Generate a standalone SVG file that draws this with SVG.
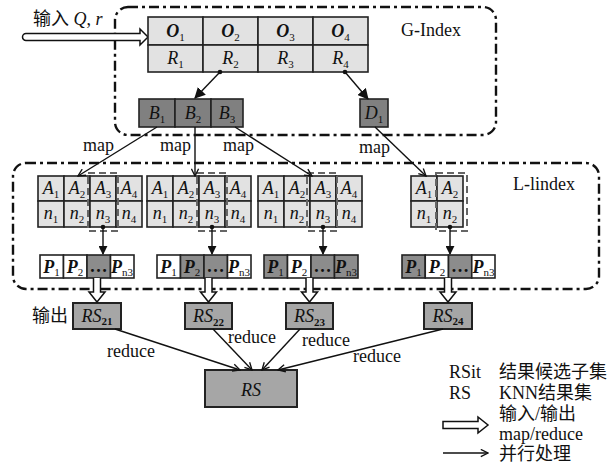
<svg xmlns="http://www.w3.org/2000/svg" width="612" height="471" viewBox="0 0 612 471">
  <defs>
    <style>
      .t { font-family: "Liberation Serif", "Noto Sans CJK SC", serif; font-size: 18px; fill: #111; }
      .c { text-anchor: middle; }
      .i { font-style: italic; }
      .bi { font-style: italic; font-weight: bold; }
      .sub { font-size: 11px; font-style: normal; font-weight: normal; }
      .subb { font-size: 11px; font-style: normal; font-weight: bold; }
      .light { fill: #e2e2e2; stroke: #222; stroke-width: 1.6; }
      .dark { fill: #808080; stroke: #222; stroke-width: 1.6; }
      .pw { fill: #ffffff; stroke: #222; stroke-width: 1.6; }
      .pg { fill: #8c8c8c; stroke: #222; stroke-width: 1.6; }
      .rs { fill: #a6a6a6; stroke: #222; stroke-width: 2; }
      .region { fill: none; stroke: #111; stroke-width: 2.4; stroke-dasharray: 10 4 3 4; }
      .hl { fill: none; stroke: #666; stroke-width: 2; stroke-dasharray: 7 4; }
      .wire { fill: none; stroke: #111; stroke-width: 1.4; }
      .hollow { fill: #fff; stroke: #111; stroke-width: 1.5; stroke-linejoin: miter; }
    </style>
    <marker id="tri" viewBox="0 0 10 10" refX="9" refY="5" markerWidth="9" markerHeight="9" markerUnits="userSpaceOnUse" orient="auto">
      <path d="M0,0 L10,5 L0,10 Z" fill="#111"/>
    </marker>
    <marker id="triBig" viewBox="0 0 10 10" refX="9" refY="5" markerWidth="11" markerHeight="11" markerUnits="userSpaceOnUse" orient="auto">
      <path d="M0,0 L10,5 L0,10 Z" fill="#111"/>
    </marker>
    <marker id="vee" viewBox="0 0 10 10" refX="9" refY="5" markerWidth="9" markerHeight="9" markerUnits="userSpaceOnUse" orient="auto">
      <path d="M1,1 L9,5 L1,9" fill="none" stroke="#111" stroke-width="1.5"/>
    </marker>
  </defs>

  <rect width="612" height="471" fill="#fff"/>

  <!-- index regions -->
  <g id="g-index">
    <rect class="region" x="115" y="7" width="381" height="128" rx="13"/>
    <text class="t" x="401" y="36">G-Index</text>
  </g>
  <g id="l-index">
    <rect class="region" x="13" y="163" width="586" height="126" rx="13"/>
    <text class="t" x="513" y="190">L-lindex</text>
  </g>

  <!-- input -->
  <g id="input">
    <path class="hollow" d="M26,33.5 H140 V29 L148,37 L140,45 V40.5 H26 A3.5,3.5 0 0 1 26,33.5 Z"/>
    <text class="t" x="33" y="25">输入 <tspan class="i">Q</tspan>, <tspan class="i">r</tspan></text>
  </g>

  <!-- global index table O/R -->
  <g id="or-table">
    <rect class="light" x="148" y="17" width="55" height="28"/>
    <rect class="light" x="203" y="17" width="55" height="28"/>
    <rect class="light" x="258" y="17" width="55" height="28"/>
    <rect class="light" x="313" y="17" width="55" height="28"/>
    <rect class="light" x="148" y="45" width="55" height="27"/>
    <rect class="light" x="203" y="45" width="55" height="27"/>
    <rect class="light" x="258" y="45" width="55" height="27"/>
    <rect class="light" x="313" y="45" width="55" height="27"/>
    <text class="t c bi" x="175.5" y="37">O<tspan class="sub" dy="4">1</tspan></text>
    <text class="t c bi" x="230.5" y="37">O<tspan class="sub" dy="4">2</tspan></text>
    <text class="t c bi" x="285.5" y="37">O<tspan class="sub" dy="4">3</tspan></text>
    <text class="t c bi" x="340.5" y="37">O<tspan class="sub" dy="4">4</tspan></text>
    <text class="t c i" x="175.5" y="64">R<tspan class="sub" dy="4">1</tspan></text>
    <text class="t c i" x="230.5" y="64">R<tspan class="sub" dy="4">2</tspan></text>
    <text class="t c i" x="285.5" y="64">R<tspan class="sub" dy="4">3</tspan></text>
    <text class="t c i" x="340.5" y="64">R<tspan class="sub" dy="4">4</tspan></text>
  </g>

  <g id="b-blocks">
    <rect class="dark" x="139" y="99" width="36" height="28"/>
    <rect class="dark" x="175" y="99" width="36" height="28"/>
    <rect class="dark" x="211" y="99" width="32" height="28"/>
    <text class="t c i" x="157" y="119">B<tspan class="sub" dy="4">1</tspan></text>
    <text class="t c i" x="193" y="119">B<tspan class="sub" dy="4">2</tspan></text>
    <text class="t c i" x="227" y="119">B<tspan class="sub" dy="4">3</tspan></text>
  </g>

  <g id="d-block">
    <rect class="dark" x="360" y="99" width="28" height="28"/>
    <text class="t c i" x="374" y="119">D<tspan class="sub" dy="4">1</tspan></text>
  </g>

  <!-- local index tables -->
  <g id="local-1">
    <rect class="light" x="38" y="176" width="26" height="25"/>
    <rect class="light" x="64" y="176" width="26" height="25"/>
    <rect class="light" x="90" y="176" width="26" height="25"/>
    <rect class="light" x="116" y="176" width="26" height="25"/>
    <rect class="light" x="38" y="201" width="26" height="26"/>
    <rect class="light" x="64" y="201" width="26" height="26"/>
    <rect class="light" x="90" y="201" width="26" height="26"/>
    <rect class="light" x="116" y="201" width="26" height="26"/>
    <rect class="hl" x="88" y="173" width="30" height="58"/>
    <text class="t c i" x="51" y="194">A<tspan class="sub" dy="4">1</tspan></text>
    <text class="t c i" x="77" y="194">A<tspan class="sub" dy="4">2</tspan></text>
    <text class="t c i" x="103" y="194">A<tspan class="sub" dy="4">3</tspan></text>
    <text class="t c i" x="129" y="194">A<tspan class="sub" dy="4">4</tspan></text>
    <text class="t c i" x="51" y="219">n<tspan class="sub" dy="4">1</tspan></text>
    <text class="t c i" x="77" y="219">n<tspan class="sub" dy="4">2</tspan></text>
    <text class="t c i" x="103" y="219">n<tspan class="sub" dy="4">3</tspan></text>
    <text class="t c i" x="129" y="219">n<tspan class="sub" dy="4">4</tspan></text>
  </g>
  <g id="local-2">
    <rect class="light" x="147" y="176" width="26" height="25"/>
    <rect class="light" x="173" y="176" width="26" height="25"/>
    <rect class="light" x="199" y="176" width="26" height="25"/>
    <rect class="light" x="225" y="176" width="26" height="25"/>
    <rect class="light" x="147" y="201" width="26" height="26"/>
    <rect class="light" x="173" y="201" width="26" height="26"/>
    <rect class="light" x="199" y="201" width="26" height="26"/>
    <rect class="light" x="225" y="201" width="26" height="26"/>
    <rect class="hl" x="197" y="173" width="30" height="58"/>
    <text class="t c i" x="160" y="194">A<tspan class="sub" dy="4">1</tspan></text>
    <text class="t c i" x="186" y="194">A<tspan class="sub" dy="4">2</tspan></text>
    <text class="t c i" x="212" y="194">A<tspan class="sub" dy="4">3</tspan></text>
    <text class="t c i" x="238" y="194">A<tspan class="sub" dy="4">4</tspan></text>
    <text class="t c i" x="160" y="219">n<tspan class="sub" dy="4">1</tspan></text>
    <text class="t c i" x="186" y="219">n<tspan class="sub" dy="4">2</tspan></text>
    <text class="t c i" x="212" y="219">n<tspan class="sub" dy="4">3</tspan></text>
    <text class="t c i" x="238" y="219">n<tspan class="sub" dy="4">4</tspan></text>
  </g>
  <g id="local-3">
    <rect class="light" x="258" y="176" width="26" height="25"/>
    <rect class="light" x="284" y="176" width="26" height="25"/>
    <rect class="light" x="310" y="176" width="26" height="25"/>
    <rect class="light" x="336" y="176" width="26" height="25"/>
    <rect class="light" x="258" y="201" width="26" height="26"/>
    <rect class="light" x="284" y="201" width="26" height="26"/>
    <rect class="light" x="310" y="201" width="26" height="26"/>
    <rect class="light" x="336" y="201" width="26" height="26"/>
    <rect class="hl" x="307" y="173" width="30" height="58"/>
    <text class="t c i" x="271" y="194">A<tspan class="sub" dy="4">1</tspan></text>
    <text class="t c i" x="297" y="194">A<tspan class="sub" dy="4">2</tspan></text>
    <text class="t c i" x="323" y="194">A<tspan class="sub" dy="4">3</tspan></text>
    <text class="t c i" x="349" y="194">A<tspan class="sub" dy="4">4</tspan></text>
    <text class="t c i" x="271" y="219">n<tspan class="sub" dy="4">1</tspan></text>
    <text class="t c i" x="297" y="219">n<tspan class="sub" dy="4">2</tspan></text>
    <text class="t c i" x="323" y="219">n<tspan class="sub" dy="4">3</tspan></text>
    <text class="t c i" x="349" y="219">n<tspan class="sub" dy="4">4</tspan></text>
  </g>
  <g id="local-4">
    <rect class="light" x="411" y="176" width="26" height="25"/>
    <rect class="light" x="437" y="176" width="26" height="25"/>
    <rect class="light" x="411" y="201" width="26" height="26"/>
    <rect class="light" x="437" y="201" width="26" height="26"/>
    <rect class="hl" x="436" y="173" width="31" height="58"/>
    <text class="t c i" x="424" y="194">A<tspan class="sub" dy="4">1</tspan></text>
    <text class="t c i" x="450" y="194">A<tspan class="sub" dy="4">2</tspan></text>
    <text class="t c i" x="424" y="219">n<tspan class="sub" dy="4">1</tspan></text>
    <text class="t c i" x="450" y="219">n<tspan class="sub" dy="4">2</tspan></text>
  </g>

  <!-- posting lists -->
  <g id="plist-1">
    <rect class="pw" x="40" y="255" width="23.5" height="23"/>
    <rect class="pw" x="63.5" y="255" width="23.5" height="23"/>
    <rect class="pg" x="87" y="255" width="23.5" height="23"/>
    <rect class="pw" x="110.5" y="255" width="23.5" height="23"/>
    <text class="t c bi" x="51.5" y="273">P<tspan class="sub" dy="3">1</tspan></text>
    <text class="t c bi" x="75" y="273">P<tspan class="sub" dy="3">2</tspan></text>
    <text class="t c" x="98.5" y="272" font-weight="bold">…</text>
    <text class="t c bi" x="122" y="273">P<tspan class="sub" font-style="italic" dy="3">n</tspan><tspan class="sub" dy="0">3</tspan></text>
  </g>
  <g id="plist-2">
    <rect class="pw" x="157" y="255" width="23.5" height="23"/>
    <rect class="pg" x="180.5" y="255" width="23.5" height="23"/>
    <rect class="pg" x="204" y="255" width="23.5" height="23"/>
    <rect class="pw" x="227.5" y="255" width="23.5" height="23"/>
    <text class="t c bi" x="168.5" y="273">P<tspan class="sub" dy="3">1</tspan></text>
    <text class="t c bi" x="192" y="273">P<tspan class="sub" dy="3">2</tspan></text>
    <text class="t c" x="215.5" y="272" font-weight="bold">…</text>
    <text class="t c bi" x="239" y="273">P<tspan class="sub" font-style="italic" dy="3">n</tspan><tspan class="sub" dy="0">3</tspan></text>
  </g>
  <g id="plist-3">
    <rect class="pg" x="264" y="255" width="23.5" height="23"/>
    <rect class="pw" x="287.5" y="255" width="23.5" height="23"/>
    <rect class="pg" x="311" y="255" width="23.5" height="23"/>
    <rect class="pg" x="334.5" y="255" width="23.5" height="23"/>
    <text class="t c bi" x="275.5" y="273">P<tspan class="sub" dy="3">1</tspan></text>
    <text class="t c bi" x="299" y="273">P<tspan class="sub" dy="3">2</tspan></text>
    <text class="t c" x="322.5" y="272" font-weight="bold">…</text>
    <text class="t c bi" x="346" y="273">P<tspan class="sub" font-style="italic" dy="3">n</tspan><tspan class="sub" dy="0">3</tspan></text>
  </g>
  <g id="plist-4">
    <rect class="pg" x="402" y="255" width="23.25" height="23"/>
    <rect class="pw" x="425.25" y="255" width="23.25" height="23"/>
    <rect class="pg" x="448.5" y="255" width="23.25" height="23"/>
    <rect class="pw" x="471.75" y="255" width="23.25" height="23"/>
    <text class="t c bi" x="413.5" y="273">P<tspan class="sub" dy="3">1</tspan></text>
    <text class="t c bi" x="437" y="273">P<tspan class="sub" dy="3">2</tspan></text>
    <text class="t c" x="460" y="272" font-weight="bold">…</text>
    <text class="t c bi" x="483.5" y="273">P<tspan class="sub" font-style="italic" dy="3">n</tspan><tspan class="sub" dy="0">3</tspan></text>
  </g>

  <!-- partial results -->
  <g id="rs21">
    <rect class="rs" x="73" y="303" width="48" height="26"/>
    <text class="t c i" x="97" y="322">RS<tspan class="subb" dy="3">21</tspan></text>
  </g>
  <g id="rs22">
    <rect class="rs" x="185" y="303" width="47" height="26"/>
    <text class="t c i" x="208.5" y="322">RS<tspan class="subb" dy="4">22</tspan></text>
  </g>
  <g id="rs23">
    <rect class="rs" x="286" y="303" width="47" height="26"/>
    <text class="t c i" x="309.5" y="322">RS<tspan class="subb" dy="4">23</tspan></text>
  </g>
  <g id="rs24">
    <rect class="rs" x="424" y="303" width="48" height="26"/>
    <text class="t c i" x="448" y="322">RS<tspan class="subb" dy="3">24</tspan></text>
  </g>
  <text class="t" x="32" y="322" font-size="17">输出</text>

  <g id="rs">
    <rect class="rs" x="205" y="370" width="92" height="37"/>
    <text class="t c i" x="251" y="396" font-size="20">RS</text>
  </g>

  <!-- connectors -->
  <g id="connectors">
    <circle cx="220" cy="72" r="2.3" fill="#111"/>
    <line class="wire" x1="220" y1="72" x2="195" y2="98" marker-end="url(#triBig)"/>
    <circle cx="345" cy="72" r="2.3" fill="#111"/>
    <line class="wire" x1="345" y1="72" x2="368" y2="99" marker-end="url(#triBig)"/>

    <line class="wire" x1="157" y1="127" x2="78" y2="176" marker-end="url(#vee)"/>
    <line class="wire" x1="195" y1="127" x2="195" y2="176" marker-end="url(#vee)"/>
    <line class="wire" x1="235" y1="127" x2="312" y2="176" marker-end="url(#vee)"/>
    <line class="wire" x1="375" y1="127" x2="426" y2="176" marker-end="url(#vee)"/>
    <text class="t" x="83" y="151">map</text>
    <text class="t" x="160" y="151">map</text>
    <text class="t" x="223" y="151">map</text>
    <text class="t" x="359" y="153">map</text>

    <circle cx="103" cy="227" r="2.3" fill="#111"/>
    <line class="wire" x1="103" y1="227" x2="103" y2="254" marker-end="url(#tri)"/>
    <circle cx="212" cy="227" r="2.3" fill="#111"/>
    <line class="wire" x1="212" y1="227" x2="212" y2="254" marker-end="url(#tri)"/>
    <circle cx="323" cy="227" r="2.3" fill="#111"/>
    <line class="wire" x1="323" y1="227" x2="323" y2="254" marker-end="url(#tri)"/>
    <circle cx="450" cy="227" r="2.3" fill="#111"/>
    <line class="wire" x1="450" y1="227" x2="450" y2="254" marker-end="url(#tri)"/>

    <path class="hollow" d="M93.5,278 V292 H89 L97,302 L105,292 H100.5 V278"/>
    <path class="hollow" d="M205,278 V292 H200.5 L208.5,302 L216.5,292 H212 V278"/>
    <path class="hollow" d="M306,278 V292 H301.5 L309.5,302 L317.5,292 H313 V278"/>
    <path class="hollow" d="M444.5,278 V292 H440 L448,302 L456,292 H451.5 V278"/>

    <line class="wire" x1="115" y1="329" x2="240" y2="370" marker-end="url(#vee)"/>
    <line class="wire" x1="213" y1="329" x2="252" y2="370" marker-end="url(#vee)"/>
    <line class="wire" x1="300" y1="329" x2="262" y2="370" marker-end="url(#vee)"/>
    <line class="wire" x1="443" y1="329" x2="278" y2="370" marker-end="url(#vee)"/>
    <text class="t" x="107" y="357">reduce</text>
    <text class="t" x="228" y="343">reduce</text>
    <text class="t" x="302" y="346">reduce</text>
    <text class="t" x="353" y="362">reduce</text>
  </g>

  <!-- legend -->
  <g id="legend">
    <text class="t" x="449" y="378">RSit</text>
    <text class="t" x="499" y="378">结果候选子集</text>
    <text class="t" x="449" y="399">RS</text>
    <text class="t" x="499" y="399">KNN结果集</text>
    <path class="hollow" d="M443,421.5 H478 V417 L488,425 L478,433 V428.5 H443 Z"/>
    <text class="t" x="499" y="420" font-size="16">输入/输出</text>
    <text class="t" x="499" y="440" font-size="17">map/reduce</text>
    <line class="wire" x1="443" y1="453" x2="488" y2="453" stroke-width="1.8" marker-end="url(#vee)"/>
    <text class="t" x="499" y="460">并行处理</text>
  </g>
</svg>
